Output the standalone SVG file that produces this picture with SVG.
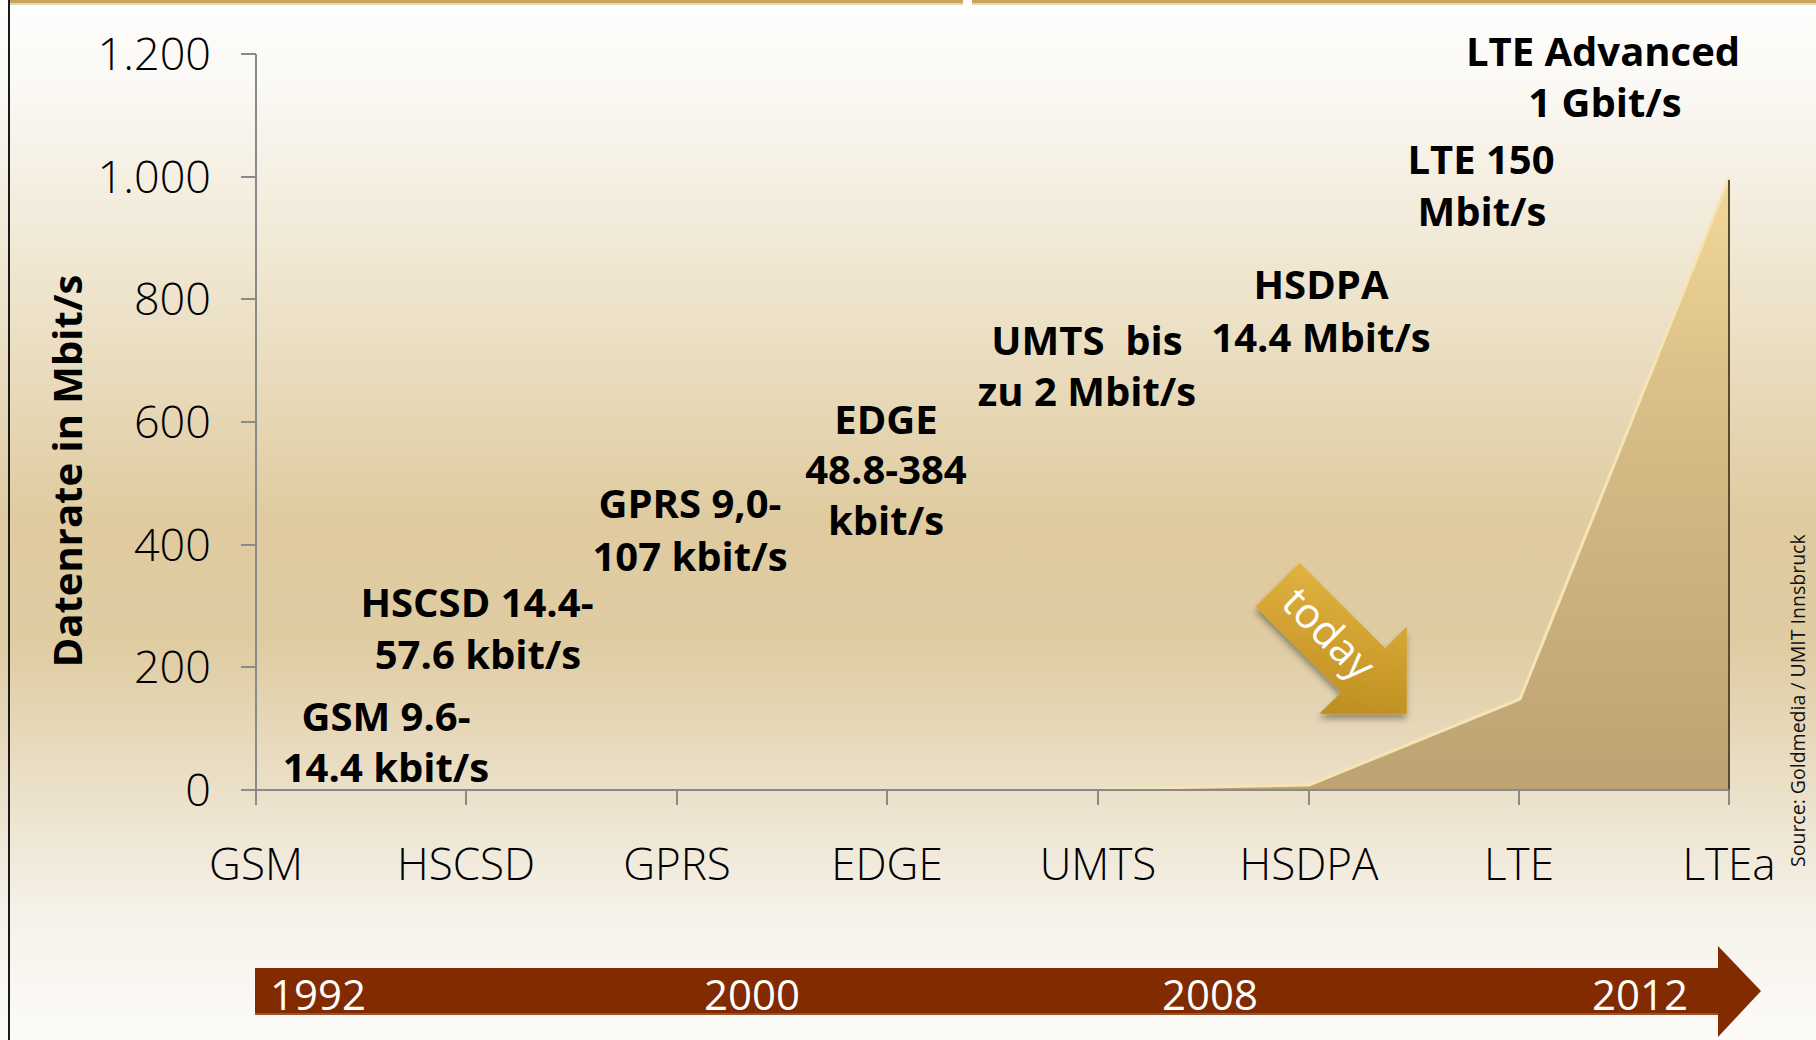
<svg xmlns="http://www.w3.org/2000/svg" width="1816" height="1040" viewBox="0 0 1816 1040">
<style>
.lbl{font-family:"Open Sans","Liberation Sans",sans-serif;font-weight:700;font-size:40px;fill:#000;text-anchor:middle;white-space:pre}
.cat{font-family:"Open Sans","Liberation Sans",sans-serif;font-weight:300;font-size:44px;fill:#000;text-anchor:middle}
.yt{font-family:"Open Sans","Liberation Sans",sans-serif;font-weight:300;font-size:45px;fill:#000;text-anchor:end}
.yr{font-family:"Open Sans","Liberation Sans",sans-serif;font-weight:400;font-size:42px;fill:#fff;text-anchor:middle}
.axis{stroke:#8a8a8a;stroke-width:2;fill:none}
</style>
<defs>
<linearGradient id="bg" x1="0" y1="0" x2="0" y2="1">
<stop offset="0" stop-color="#fefefd"/>
<stop offset="0.08" stop-color="#fbf9f5"/>
<stop offset="0.3" stop-color="#ede2c9"/>
<stop offset="0.5" stop-color="#dfcb9f"/>
<stop offset="0.62" stop-color="#dfcca2"/>
<stop offset="0.76" stop-color="#ebe0c9"/>
<stop offset="0.88" stop-color="#f6f2ea"/>
<stop offset="1" stop-color="#fcfbf9"/>
</linearGradient>
<linearGradient id="area" gradientUnits="userSpaceOnUse" x1="0" y1="178" x2="0" y2="790">
<stop offset="0" stop-color="#f2d898"/>
<stop offset="0.4" stop-color="#d6bc86"/>
<stop offset="1" stop-color="#bda373"/>
</linearGradient>
<linearGradient id="gold" x1="0" y1="0" x2="1" y2="1">
<stop offset="0" stop-color="#e6b947"/>
<stop offset="0.5" stop-color="#cf9f2e"/>
<stop offset="1" stop-color="#b4851a"/>
</linearGradient>
<filter id="sh" x="-20%" y="-20%" width="150%" height="150%">
<feDropShadow dx="3" dy="4" stdDeviation="3" flood-color="#000" flood-opacity="0.35"/>
</filter>
</defs>

<rect id="background" x="0" y="0" width="1816" height="1040" fill="url(#bg)"/>
<g id="frame">
<rect x="8" y="0" width="955" height="3" fill="#c7a45e"/>
<rect x="8" y="3" width="955" height="2" fill="#e8d6ae"/>
<rect x="972" y="0" width="844" height="3" fill="#c7a45e"/>
<rect x="972" y="3" width="844" height="2" fill="#e8d6ae"/>
<line x1="9" y1="0" x2="9" y2="1040" stroke="#1a1a1a" stroke-width="2"/>
</g>

<g id="area-series">
<polygon points="256,790 1098,789 1309,785 1520,699 1729,178 1729,790" fill="url(#area)"/>
<polyline points="1098,789 1309,785 1520,699 1729,178" fill="none" stroke="#f6e4b4" stroke-width="3" stroke-linejoin="round"/>
<line x1="1729" y1="180" x2="1729" y2="790" stroke="#5b4a2e" stroke-width="2"/>
</g>

<g id="axes">
<line class="axis" x1="256" y1="54" x2="256" y2="790"/>
<line class="axis" x1="241" y1="790" x2="1729" y2="790"/>
<path class="axis" d="M241,54H256M241,177H256M241,299H256M241,422H256M241,545H256M241,667H256"/>
<path class="axis" d="M256,790V805M466,790V805M677,790V805M887,790V805M1098,790V805M1309,790V805M1519,790V805M1729,790V805"/>
</g>

<g id="y-labels">
<text class="yt" x="211" y="70">1.200</text>
<text class="yt" x="211" y="193">1.000</text>
<text class="yt" x="211" y="315">800</text>
<text class="yt" x="211" y="438">600</text>
<text class="yt" x="211" y="561">400</text>
<text class="yt" x="211" y="683">200</text>
<text class="yt" x="211" y="806">0</text>
</g>
<text id="y-title" class="lbl" transform="translate(82,471) rotate(-90)">Datenrate in Mbit/s</text>

<g id="x-labels">
<text class="cat" x="256" y="880">GSM</text>
<text class="cat" x="466" y="880">HSCSD</text>
<text class="cat" x="677" y="880">GPRS</text>
<text class="cat" x="887" y="880">EDGE</text>
<text class="cat" x="1098" y="880">UMTS</text>
<text class="cat" x="1309" y="880">HSDPA</text>
<text class="cat" x="1519" y="880">LTE</text>
<text class="cat" x="1729" y="880">LTEa</text>
</g>

<g id="node-gsm"><text class="lbl" x="386" y="731">GSM 9.6-</text><text class="lbl" x="386" y="782">14.4 kbit/s</text></g>
<g id="node-hscsd"><text class="lbl" x="477" y="617">HSCSD 14.4-</text><text class="lbl" x="478" y="669">57.6 kbit/s</text></g>
<g id="node-gprs"><text class="lbl" x="690" y="518">GPRS 9,0-</text><text class="lbl" x="690" y="571">107 kbit/s</text></g>
<g id="node-edge"><text class="lbl" x="886" y="434">EDGE</text><text class="lbl" x="886" y="484">48.8-384</text><text class="lbl" x="886" y="535">kbit/s</text></g>
<g id="node-umts"><text class="lbl" x="1087" y="355">UMTS  bis</text><text class="lbl" x="1087" y="406">zu 2 Mbit/s</text></g>
<g id="node-hsdpa"><text class="lbl" x="1321" y="299">HSDPA</text><text class="lbl" x="1321" y="352">14.4 Mbit/s</text></g>
<g id="node-lte"><text class="lbl" x="1481" y="174">LTE 150</text><text class="lbl" x="1482" y="226">Mbit/s</text></g>
<g id="node-ltea"><text class="lbl" x="1603" y="66">LTE Advanced</text><text class="lbl" x="1605" y="117">1 Gbit/s</text></g>

<g id="today-arrow" transform="translate(1407,714) rotate(45)">
<polygon points="0,0 -62,-62 -62,-31 -183,-31 -183,31 -62,31 -62,62" fill="url(#gold)" filter="url(#sh)"/>
<text x="-112" y="13" font-family="'Open Sans','Liberation Sans',sans-serif" font-size="42" fill="#fff" text-anchor="middle">today</text>
</g>

<g id="timeline">
<polygon points="255,968 1718,968 1718,946 1761,991 1718,1037 1718,1015 255,1015" fill="#822a00"/>
<line x1="255" y1="1014" x2="1718" y2="1014" stroke="#a4603c" stroke-width="1.5"/>
<text class="yr" x="318" y="1010">1992</text>
<text class="yr" x="752" y="1010">2000</text>
<text class="yr" x="1210" y="1010">2008</text>
<text class="yr" x="1640" y="1010">2012</text>
</g>

<text id="source" transform="translate(1805,867) rotate(-90)" font-family="'Open Sans','Liberation Sans',sans-serif" font-size="19.5" fill="#111">Source: Goldmedia / UMIT Innsbruck</text>
</svg>
